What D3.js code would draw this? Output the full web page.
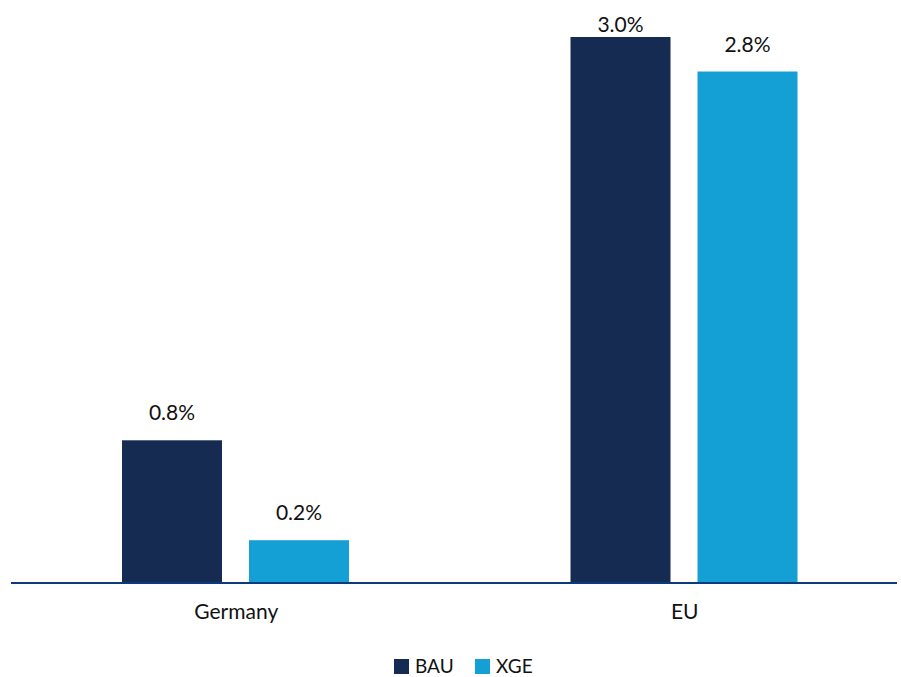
<!DOCTYPE html>
<html>
<head>
<meta charset="utf-8">
<script src="https://cdn.jsdelivr.net/npm/d3@7"></script>
<style>
  html, body { margin: 0; padding: 0; background: #ffffff; }
  svg { display: block; font-family: Lato, "Open Sans", sans-serif; }
</style>
</head>
<body>
<svg id="chart" width="901" height="677"></svg>
<script>
// Regions on the category axis
const categories = ["Germany", "EU"];
// Scenario series
const seriesNames = ["BAU", "XGE"];
const seriesColors = ["#152b52", "#14a0d4"];
// Values (share, 0.03 = 3.0%)
const bauValues = [0.0078, 0.030];
const xgeValues = [0.0023, 0.0281];

const rows = categories.map((c, i) => ({
  category: c,
  values: [
    { key: "BAU", value: bauValues[i] },
    { key: "XGE", value: xgeValues[i] }
  ]
}));

const svg = d3.select("#chart");
const baseY = 582;

const x0 = d3.scaleBand().domain(categories).range([12, 909]).padding(0);
const x1 = d3.scaleBand().domain(seriesNames)
  .range([110, 337]).paddingInner(0.2126).paddingOuter(0);
const y = d3.scaleLinear().domain([0, 0.03]).range([baseY, 37]);
const color = d3.scaleOrdinal().domain(seriesNames).range(seriesColors);
const fmt = d3.format(".1%");

const groups = svg.append("g").selectAll("g")
  .data(rows).join("g")
  .attr("transform", d => `translate(${x0(d.category)},0)`);

groups.selectAll("rect")
  .data(d => d.values).join("rect")
  .attr("x", d => x1(d.key))
  .attr("y", d => y(d.value))
  .attr("width", x1.bandwidth())
  .attr("height", d => y(0) - y(d.value))
  .attr("fill", d => color(d.key));

groups.selectAll("text.val")
  .data(d => d.values).join("text")
  .attr("class", "val")
  .attr("x", d => x1(d.key) + x1.bandwidth() / 2)
  .attr("y", d => Math.max(y(d.value) - 20, 32))
  .attr("text-anchor", "middle")
  .attr("font-size", 21)
  .attr("fill", "#111")
  .text(d => fmt(d.value));

// Category axis
const axis = svg.append("g").attr("transform", `translate(0,${baseY})`)
  .call(d3.axisBottom(x0).tickSize(0).tickPadding(22));
axis.select(".domain").remove();
axis.selectAll("text")
  .attr("font-size", 21)
  .attr("font-family", "Lato, 'Open Sans', sans-serif")
  .attr("fill", "#111");
svg.append("line")
  .attr("x1", 11).attr("x2", 897)
  .attr("y1", baseY + 1).attr("y2", baseY + 1)
  .attr("stroke", "#0b3a7e").attr("stroke-width", 2);

// Legend
const legendItems = [
  { name: "BAU", x: 394 },
  { name: "XGE", x: 475 }
];
const legend = svg.append("g").selectAll("g")
  .data(legendItems).join("g")
  .attr("transform", d => `translate(${d.x},659)`);
legend.append("rect")
  .attr("width", 15).attr("height", 15)
  .attr("fill", d => color(d.name));
legend.append("text")
  .attr("x", 21).attr("y", 14)
  .attr("font-size", 19)
  .attr("fill", "#111")
  .text(d => d.name);
</script>
</body>
</html>
